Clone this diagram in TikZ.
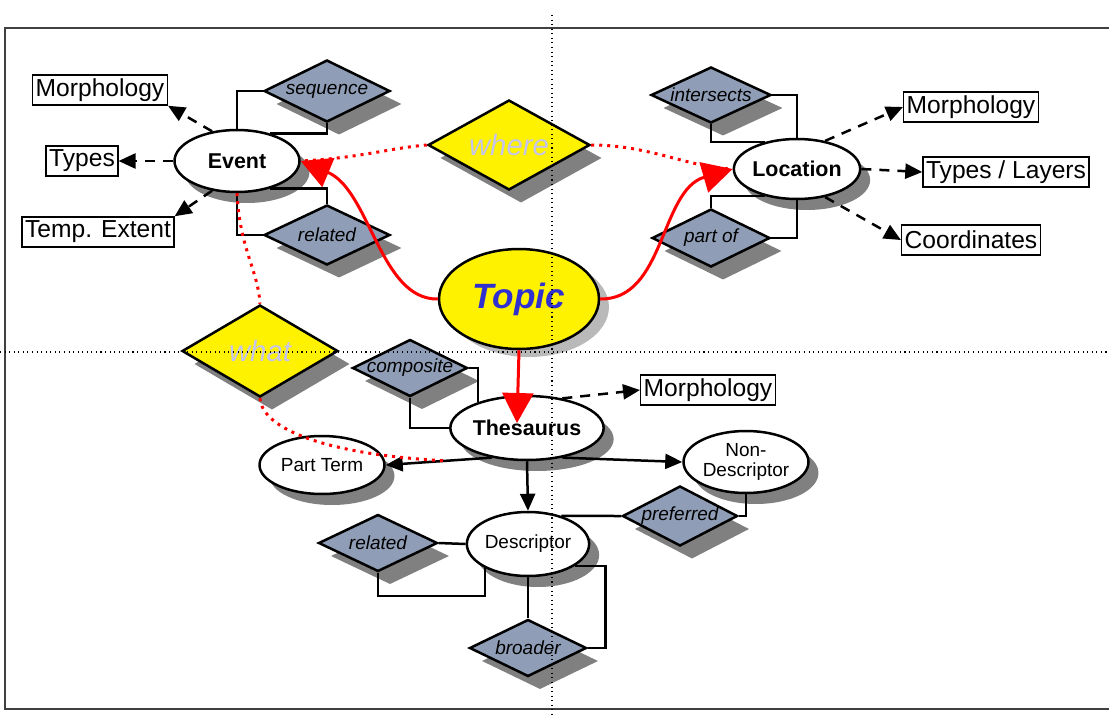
\documentclass[tikz,border=0pt]{standalone}
\usepackage{fontspec}
\setmainfont{Liberation Sans}
\usetikzlibrary{shapes.geometric,shadows,arrows.meta}
\definecolor{relblue}{RGB}{143,158,182}
\definecolor{topicblue}{RGB}{48,48,208}
\definecolor{wherecol}{RGB}{196,196,236}

\begin{document}
\begin{tikzpicture}[x=0.02cm,y=-0.02cm,line width=0.05cm,>={Triangle[length=0.34cm,width=0.3cm]},
  shad/.style={drop shadow={fill=gray,opacity=1,shadow xshift=0.2cm,shadow yshift=-0.22cm}},
  oval/.style={ellipse,draw,fill=white,inner sep=0pt},
  ent/.style={oval,shad,font=\fontsize{12.2}{14}\selectfont\bfseries},
  attr/.style={oval,shad,font=\fontsize{10.8}{11.5}\selectfont,align=center},
  rel/.style={diamond,draw,fill=relblue,inner xsep=-0.3cm,inner ysep=0pt,aspect=2,font=\fontsize{10.8}{13}\selectfont\itshape,
    drop shadow={fill=gray,opacity=1,shadow xshift=0.24cm,shadow yshift=-0.26cm}},
  link/.style={rel,fill=yellow,text=wherecol,font=\fontsize{16.7}{19}\selectfont\itshape},
  lbl/.style={draw,fill=white,line width=0.03cm,inner xsep=0.06cm,inner ysep=0pt,minimum height=0.6cm,font=\fontsize{14}{16}\selectfont},
  dasharr/.style={->,dash pattern=on 0.2cm off 0.16cm},
  redarr/.style={red,line width=0.06cm,-{Triangle[length=0.6cm,width=0.62cm]}},
  reddot/.style={red,line width=0.06cm,dash pattern=on 0.06cm off 0.1cm}]
  \useasboundingbox (0,0) rectangle (1109,717);
  \draw[line width=0.05cm,black!75] (5,28) rectangle (1120,709);

  % entities
  \node[ent,minimum width=2.5cm,minimum height=1.24cm] (event) at (237,161) {Event};
  \node[ent,minimum width=2.5cm,minimum height=1.2cm] (loc) at (797,169) {Location};
  \node[oval,fill=yellow,minimum width=3.2cm,minimum height=2cm,text=topicblue,font=\fontsize{20}{24}\selectfont\bfseries\itshape,
    drop shadow={fill=gray!55,opacity=1,shadow xshift=0.2cm,shadow yshift=-0.16cm}] (topic) at (519,299) {Topic};
  \node[ent,minimum width=2.36cm,minimum height=1.28cm] (thes) at (527,428) {Thesaurus};
  \node[attr,minimum width=2.5cm,minimum height=1.16cm] (part) at (322,465) {Part Term};
  \node[attr,minimum width=2.5cm,minimum height=1.24cm] (nondesc) at (746,462) {Non-\\Descriptor};
  \node[attr,minimum width=2.36cm,minimum height=1.28cm] (desc) at (528,544) {Descriptor};

  % relations
  \node[rel,minimum width=2.52cm,minimum height=1.24cm] (seq) at (327,91) {sequence};
  \node[rel,minimum width=2.52cm,minimum height=1.2cm] (erel) at (327,235) {related};
  \node[rel,minimum width=2.4cm,minimum height=1.12cm] (inter) at (711,95) {intersects};
  \node[rel,minimum width=2.36cm,minimum height=1.16cm] (partof) at (711,238) {part of};
  \node[link,minimum width=3.24cm,minimum height=1.8cm] (where) at (509,145) {where};
  \node[link,minimum width=3.12cm,minimum height=1.84cm] (what) at (260,351) {what};
  \node[rel,minimum width=2.3cm,minimum height=1.14cm] (comp) at (410,368) {composite};
  \node[rel,minimum width=2.3cm,minimum height=1.2cm] (pref) at (680,516) {preferred};
  \node[rel,minimum width=2.38cm,minimum height=1.14cm] (drel) at (378,543) {related};
  \node[rel,minimum width=2.34cm,minimum height=1.14cm] (broad) at (528,648) {broader};

  % attributes
  \node[lbl] (emorph) at (100,90) {Morphology};
  \node[lbl] (etypes) at (82,161) {Types};
  \node[lbl] (etemp) at (98,232) {Temp. Extent};
  \node[lbl] (lmorph) at (971,107) {Morphology};
  \node[lbl] (ltypes) at (1006,172) {Types / Layers};
  \node[lbl] (lcoord) at (971,240) {Coordinates};
  \node[lbl] (tmorph) at (708,390) {Morphology};

  % Event
  \draw (seq.west) -| (event.north);
  \draw (seq.south) |- (event.40);
  \draw (event.-40) -| (erel.north);
  \draw (erel.west) -| (event.south);
  % Location
  \draw (inter.east) -| (loc.north);
  \draw (inter.south) |- (loc.140);
  \draw (loc.220) -| (partof.north);
  \draw (partof.east) -| (loc.south);
  % Thesaurus
  \draw (comp.east) -| (thes.152);
  \draw (comp.south) |- (thes.west);
  \draw[->] (thes.220) -- coordinate[pos=0.43] (joint) (part.east);
  \draw[->] (thes.320) -- (nondesc.west);
  \draw[->] (thes.south) -- (desc.north);
  % Descriptor
  \draw (desc.40) -- (pref.west);
  \draw (pref.east) -| (nondesc.south);
  \draw (drel.east) -- (desc.west);
  \draw (drel.south) -- ++(0,23) -| (desc.209);
  \draw (desc.south) -- (broad.north);
  \draw (broad.east) -- ++(18,0) |- (desc.-25);

  \draw[dasharr] (event.130) -- (emorph.south east);
  \draw[dasharr] (event.west) -- (etypes.east);
  \draw[dasharr] (event.230) -- (etemp.north east);
  \draw[dasharr] (loc.45) -- (lmorph.west);
  \draw[dasharr] (loc.east) -- (ltypes.west);
  \draw[dasharr] (loc.-45) -- (lcoord.west);
  \draw[dasharr] (thes.40) -- (tmorph.west);

  % red links
  \draw[reddot] (where.west) .. controls (390,148) and (360,158) .. (event.east);
  \draw[reddot] (where.east) .. controls (650,145) and (690,168) .. (loc.west);
  \draw[reddot] (event.south) .. controls (240,250) and (258,270) .. (what.north);
  \draw[reddot] (what.south) .. controls (262,430) and (330,455) .. (joint);
  \draw[redarr] (topic.west) .. controls (380,300) and (370,190) .. (event.east);
  \draw[redarr] (topic.east) .. controls (665,300) and (660,190) .. (loc.west);
  \coordinate (thtip) at (517,423);
  \draw[redarr] (topic.south) -- (thtip);

  % guides
  \draw[dotted,line width=0.6pt] (552,15) -- (552,717);
  \draw[dotted,line width=0.6pt] (0,352) -- (1109,352);
\end{tikzpicture}
\end{document}
